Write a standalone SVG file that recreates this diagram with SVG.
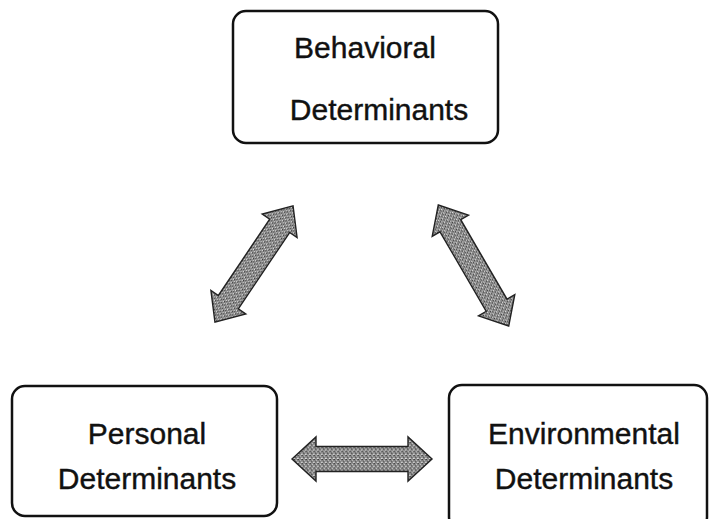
<svg xmlns="http://www.w3.org/2000/svg" width="710" height="519" viewBox="0 0 710 519">
<style>
.box{fill:#fff;stroke:#111;stroke-width:2.5}
.lbl{font-family:"Liberation Sans",Arial,sans-serif;font-size:30px;fill:#111;stroke:#111;stroke-width:0.4;text-anchor:middle}
.arr{fill:url(#tex);stroke:#222;stroke-width:1.4}
</style>
<defs>
<pattern id="tex" width="4" height="4" patternUnits="userSpaceOnUse">
<rect width="4" height="4" fill="#8e8e8e"/>
<rect x="0" y="0" width="1" height="1" fill="#3a3a3a"/>
<rect x="2" y="1" width="1" height="1" fill="#d8d8d8"/>
<rect x="1" y="2" width="1" height="1" fill="#4a4a4a"/>
<rect x="3" y="3" width="1" height="1" fill="#e0e0e0"/>
<rect x="3" y="0" width="1" height="1" fill="#5a5a5a"/>
<rect x="0" y="3" width="1" height="1" fill="#c8c8c8"/>
<rect x="2" y="2" width="1" height="1" fill="#666"/>
</pattern>
<polygon id="dbl" points="-70,0 -46,-21 -46,-12 46,-12 46,-21 70,0 46,21 46,12 -46,12 -46,21"/>
</defs>
<g id="connectors">
<use href="#dbl" class="arr" transform="translate(254,264) rotate(-56.1)"/>
<use href="#dbl" class="arr" transform="translate(473.5,265.5) rotate(59.8)"/>
<use href="#dbl" class="arr" transform="translate(362,459) scale(1,1.05)"/>
</g>
<g id="behavioral">
<rect class="box" x="233" y="11" width="265" height="132" rx="13"/>
<text class="lbl" x="365" y="58">Behavioral</text>
<text class="lbl" x="379" y="120">Determinants</text>
</g>
<g id="personal">
<rect class="box" x="12" y="386" width="265" height="130" rx="13"/>
<text class="lbl" x="147" y="444">Personal</text>
<text class="lbl" x="147" y="489">Determinants</text>
</g>
<g id="environmental">
<rect class="box" x="449" y="385" width="258" height="145" rx="13"/>
<text class="lbl" x="584" y="444">Environmental</text>
<text class="lbl" x="584" y="489">Determinants</text>
</g>
</svg>
